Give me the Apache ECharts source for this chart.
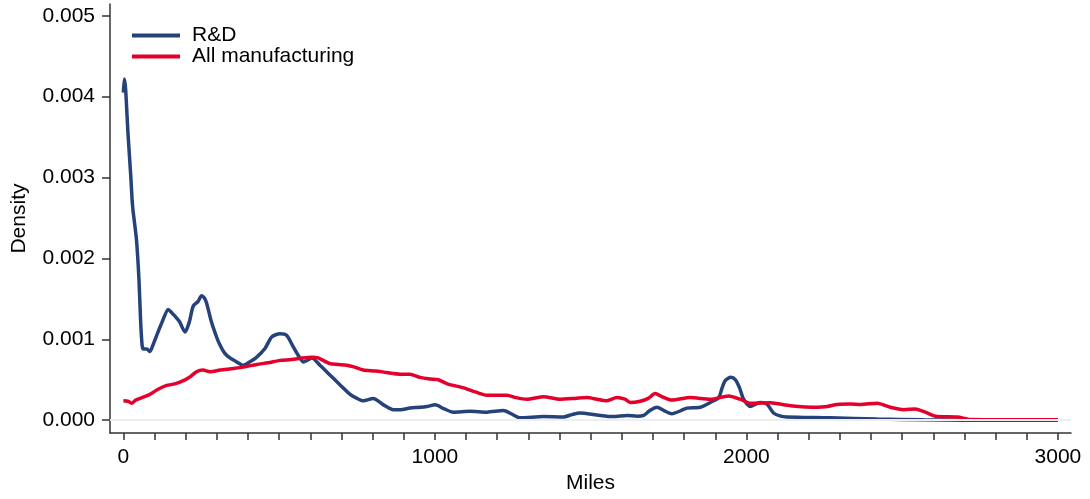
<!DOCTYPE html>
<html>
<head>
<meta charset="utf-8">
<script src="https://cdn.jsdelivr.net/npm/echarts@6/dist/echarts.min.js"></script>
<style>html,body{margin:0;padding:0;background:#fff;}#c{width:1090px;height:499px;}</style>
</head>
<body>
<div id="c"></div>
<script>
// Data (miles, density)
const rdMiles = [0,3,7,15,24,28,31,42,50,55,60,64,75,85,95,107,125,144,155,165,180,198,212,224,240,251,260,267,283,300,310,325,342,360,385,405,428,455,476,503,524,545,565,578,590,605,631,663,695,728,750,770,802,835,867,890,920,952,974,1001,1030,1059,1113,1167,1220,1245,1274,1349,1413,1440,1466,1520,1573,1616,1650,1670,1690,1713,1735,1761,1790,1809,1852,1884,1911,1922,1932,1950,1965,1978,1991,2013,2030,2045,2066,2087,2110,2130,2270,2420,2569,2700,3000];
const rdDensity = [0.00405,0.00422,0.00410,0.00353,0.00300,0.00272,0.00259,0.00223,0.00174,0.00125,0.00093,0.00088,0.00088,0.00085,0.00093,0.00105,0.00122,0.00137,0.00133,0.00129,0.00122,0.00109,0.00122,0.00141,0.00147,0.00154,0.00151,0.00145,0.00121,0.00102,0.00093,0.00083,0.00077,0.00073,0.00068,0.00072,0.00078,0.00089,0.00103,0.00107,0.00105,0.00091,0.00078,0.00072,0.00074,0.00077,0.00068,0.00056,0.00044,0.00032,0.00027,0.00024,0.00027,0.00019,0.00013,0.00013,0.00015,0.00016,0.00017,0.00019,0.00014,0.00010,0.00011,0.00010,0.00012,0.00008,0.00003,0.000045,0.00004,0.00007,0.00009,0.000065,0.000045,0.00006,0.00005,0.00006,0.00012,0.00016,0.00012,0.00008,0.00012,0.00015,0.00016,0.00022,0.00028,0.00040,0.00049,0.00053,0.00050,0.00040,0.00026,0.00017,0.00020,0.00022,0.00020,0.00009,0.00005,0.00004,0.00003,0.000015,0.000005,0,0];
const mfgMiles = [0,15,26,40,60,85,110,139,165,198,215,235,255,278,310,353,390,428,465,503,540,575,605,625,663,690,717,740,770,810,845,888,920,952,985,1011,1040,1092,1130,1167,1200,1231,1260,1295,1349,1402,1450,1488,1520,1552,1584,1610,1627,1659,1685,1707,1730,1761,1820,1884,1943,1980,2013,2077,2141,2227,2260,2291,2334,2366,2420,2462,2505,2542,2580,2607,2677,2720,3000];
const mfgDensity = [0.00024,0.000235,0.00021,0.00025,0.00028,0.00032,0.00038,0.00043,0.00045,0.00050,0.00054,0.00060,0.00062,0.00060,0.00062,0.00064,0.00066,0.00069,0.00071,0.00074,0.00075,0.00077,0.00078,0.00077,0.00070,0.00069,0.00068,0.00066,0.00062,0.00061,0.00059,0.00057,0.00057,0.00053,0.00051,0.00050,0.00045,0.00040,0.00035,0.00031,0.00031,0.00031,0.00028,0.00026,0.00029,0.00026,0.00027,0.00028,0.00026,0.00024,0.00028,0.00026,0.00022,0.000235,0.00027,0.00033,0.00029,0.00025,0.00028,0.00026,0.00030,0.00026,0.00021,0.000215,0.00018,0.00016,0.00017,0.000195,0.00020,0.000195,0.00021,0.00016,0.00013,0.00014,0.00009,0.00005,0.00004,0.00001,0.000005];
const seriesNames = ['R&D', 'All manufacturing'];
const xLabelTicks = [0,1000,2000,3000];
const xMinorTicks = [0,100,200,300,400,500,600,700,800,900,1000,1100,1200,1300,1400,1500,1600,1700,1800,1900,2000,2100,2200,2300,2400,2500,2600,2700,2800,2900,3000];
const yTicks = [0,0.001,0.002,0.003,0.004,0.005];

const FONT = '"Liberation Sans", Arial, sans-serif';
const FS = 21;
const zip = (xs, ys) => xs.map((x, i) => [x, ys[i]]);

const chart = echarts.init(document.getElementById('c'), null, {renderer: 'canvas'});
chart.setOption({
  animation: false,
  backgroundColor: '#ffffff',
  textStyle: {fontFamily: FONT},
  grid: {left: 110, right: 19, top: 4, bottom: 60, containLabel: false},
  legend: {
    data: seriesNames,
    orient: 'vertical',
    left: 127, top: 20,
    icon: 'rect',
    itemWidth: 48, itemHeight: 4, itemGap: 0,
    textStyle: {fontFamily: FONT, fontSize: FS, color: '#000', lineHeight: 21, padding: [0,0,0,7]}
  },
  xAxis: {
    type: 'value', min: -43, max: 3042,
    name: 'Miles', nameLocation: 'middle', nameGap: 36,
    nameTextStyle: {fontFamily: FONT, fontSize: FS, color: '#000'},
    axisLine: {show: true, onZero: false, lineStyle: {color: '#333', width: 1.5}},
    axisTick: {show: true, length: 7, customValues: xMinorTicks, lineStyle: {color: '#333', width: 1.5}},
    axisLabel: {customValues: xLabelTicks, margin: 14, fontFamily: FONT, fontSize: FS, color: '#000',
      formatter: v => String(v)},
    splitLine: {show: false}
  },
  yAxis: {
    type: 'value', min: -0.000159, max: 0.005146,
    name: 'Density', nameLocation: 'middle', nameGap: 80,
    nameTextStyle: {fontFamily: FONT, fontSize: FS, color: '#000'},
    axisLine: {show: true, onZero: false, lineStyle: {color: '#333', width: 1.5}},
    axisTick: {show: true, length: 8, customValues: yTicks, lineStyle: {color: '#333', width: 1.5}},
    axisLabel: {customValues: yTicks, margin: 15, fontFamily: FONT, fontSize: FS, color: '#000',
      formatter: v => Number(v).toFixed(3)},
    splitLine: {show: false}
  },
  series: [
    {
      name: '__grid', type: 'line', data: [], z: 1, silent: true,
      markLine: {
        silent: true, symbol: 'none', animation: false,
        label: {show: false},
        lineStyle: {color: '#eaf0f2', width: 2, type: 'solid'},
        emphasis: {disabled: true},
        data: yTicks.map(v => ({yAxis: v}))
      }
    },
    {
      name: seriesNames[0], type: 'line', data: zip(rdMiles, rdDensity),
      showSymbol: false, symbol: 'none', smooth: 0.25, z: 3,
      lineStyle: {color: '#26427a', width: 3.5},
      itemStyle: {color: '#26427a'}
    },
    {
      name: seriesNames[1], type: 'line', data: zip(mfgMiles, mfgDensity),
      showSymbol: false, symbol: 'none', smooth: 0.25, z: 4,
      lineStyle: {color: '#e4002b', width: 3.5},
      itemStyle: {color: '#e4002b'}
    }
  ]
});
</script>
</body>
</html>
